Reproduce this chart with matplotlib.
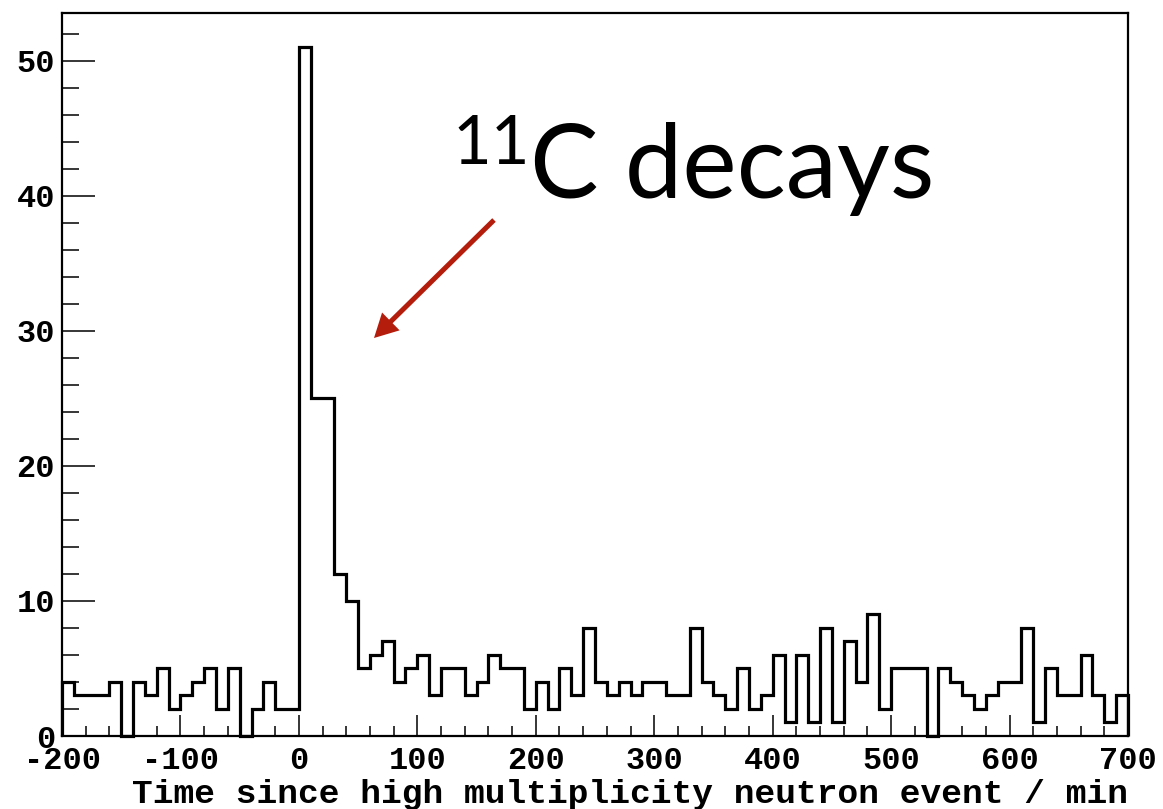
import numpy as np
import matplotlib
matplotlib.use("Agg")
import matplotlib.pyplot as plt
from matplotlib.ticker import MultipleLocator
from matplotlib.patches import FancyArrowPatch

# Histogram: counts per 10-minute bin, from -200 to 700 min
bin_edges = np.arange(-200, 701, 10)
counts = [
    4, 3, 3, 3, 4, 0, 4, 3, 5, 2,      # -200 .. -110
    3, 4, 5, 2, 5, 0, 2, 4, 2, 2,      # -100 .. -10
    51, 25, 25, 12, 10, 5, 6, 7, 4, 5,  # 0 .. 90
    6, 3, 5, 5, 3, 4, 6, 5, 5, 2,      # 100 .. 190
    4, 2, 5, 3, 8, 4, 3, 4, 3, 4,      # 200 .. 290
    4, 3, 3, 8, 4, 3, 2, 5, 2, 3,      # 300 .. 390
    6, 1, 6, 1, 8, 1, 7, 4, 9, 2,      # 400 .. 490
    5, 5, 5, 0, 5, 4, 3, 2, 3, 4,      # 500 .. 590
    4, 8, 1, 5, 3, 3, 6, 3, 1, 3,      # 600 .. 690
]
x_label = "Time since high multiplicity neutron event / min"
note_sup = "11"
note_main = "C decays"

W, H = 1163, 809
DPI = 100
plt.rcParams["axes.unicode_minus"] = False

fig = plt.figure(figsize=(W / DPI, H / DPI), dpi=DPI)
ax = fig.add_axes([62 / W, 1 - 736 / H, (1128 - 62) / W, (736 - 12.7) / H])

ax.stairs(counts, bin_edges, fill=False, color="black", linewidth=2.3,
          baseline=0, clip_on=False, zorder=3)

ax.set_xlim(-200, 700)
ax.set_ylim(0, 1.05 * max(counts))

for sp in ax.spines.values():
    sp.set_linewidth(1.6)

tick_font = dict(family="Liberation Mono", weight="bold", size=23)
ax.xaxis.set_major_locator(MultipleLocator(100))
ax.xaxis.set_minor_locator(MultipleLocator(20))
ax.yaxis.set_major_locator(MultipleLocator(10))
ax.yaxis.set_minor_locator(MultipleLocator(2))
ax.tick_params(axis="x", which="major", direction="in", length=15, width=1.1, pad=7.5)
ax.tick_params(axis="x", which="minor", direction="in", length=7.5, width=1.1)
ax.tick_params(axis="y", which="major", direction="in", length=24, width=1.1, pad=5)
ax.tick_params(axis="y", which="minor", direction="in", length=12, width=1.1)
for lab in ax.get_xticklabels() + ax.get_yticklabels():
    lab.set_fontfamily(tick_font["family"])
    lab.set_fontweight(tick_font["weight"])
    lab.set_fontsize(tick_font["size"])

fig.text(1128 / W, 1 - 803 / H, x_label, ha="right", va="baseline",
         family="Liberation Mono", weight="bold", fontsize=24.8)

# Annotation text
fig.text(452 / W, 1 - 164 / H, note_sup, ha="left", va="baseline",
         family="Lato", fontsize=48)
fig.text(530 / W, 1 - 198 / H, note_main, ha="left", va="baseline",
         family="Lato", fontsize=74)

arrow = FancyArrowPatch(
    posA=(494 / DPI, (H - 220) / DPI), posB=(374 / DPI, (H - 338) / DPI),
    transform=fig.dpi_scale_trans,
    arrowstyle="simple,head_length=17,head_width=18,tail_width=3.6",
    mutation_scale=1, color="#b41c0c", linewidth=0,
    shrinkA=0, shrinkB=0)
fig.add_artist(arrow)

fig.savefig("out.png", dpi=DPI, facecolor="white")
